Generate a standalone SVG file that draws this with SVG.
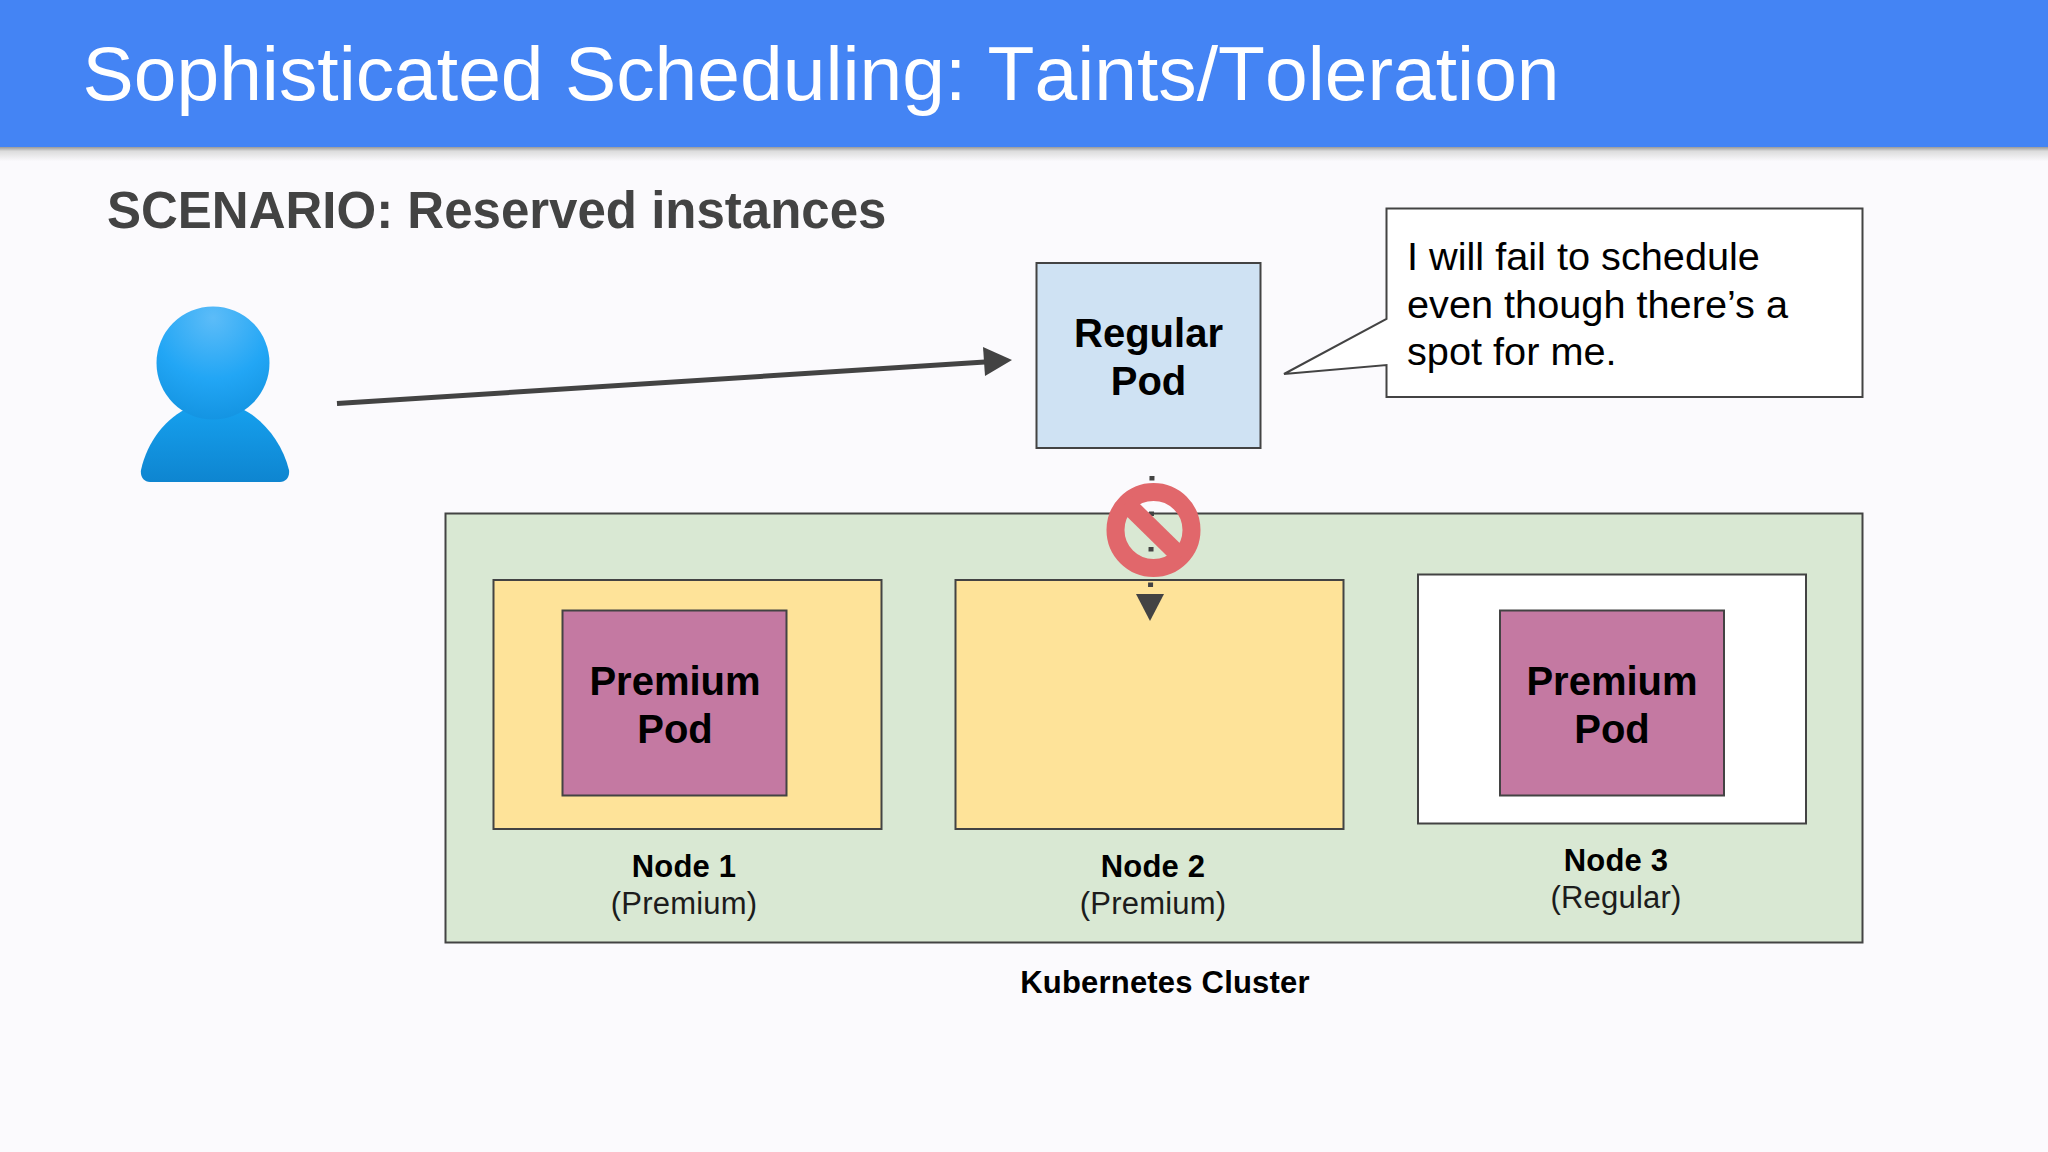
<svg xmlns="http://www.w3.org/2000/svg" width="2048" height="1152" viewBox="0 0 2048 1152">
<style>
.box{stroke:#434343;stroke-width:2}
.pod{font:bold 40px "Liberation Sans",Arial,sans-serif;fill:#000;text-anchor:middle}
.lb{font:bold 31px "Liberation Sans",Arial,sans-serif;fill:#000;text-anchor:middle;letter-spacing:.2px}
.ls{font:31px "Liberation Sans",Arial,sans-serif;fill:#1c1c1c;text-anchor:middle;letter-spacing:.2px}
.call{font:39.700px "Liberation Sans",Arial,sans-serif;fill:#000}
</style>
<defs>
<linearGradient id="sh" x1="0" y1="0" x2="0" y2="1"><stop offset="0" stop-color="#9a9a9a"/><stop offset=".3" stop-color="#dcdcdc"/><stop offset="1" stop-color="#faf9fc"/></linearGradient>
<radialGradient id="hd" cx=".5" cy=".1" r=".9"><stop offset="0" stop-color="#5cbcf8"/><stop offset=".6" stop-color="#22a6f5"/><stop offset="1" stop-color="#1494e2"/></radialGradient>
<linearGradient id="bd" x1="0" y1="0" x2="0" y2="1"><stop offset="0" stop-color="#16a0ee"/><stop offset="1" stop-color="#0e85d0"/></linearGradient>
</defs>
<rect width="2048" height="1152" fill="#fbfafd"/>
<g id="header">
<rect y="147" width="2048" height="14" fill="url(#sh)"/>
<rect width="2048" height="147" fill="#4484f4"/>
<text x="82.500" y="100" font-family="Liberation Sans,Arial,sans-serif" font-size="76.800" style="font-kerning:none" fill="#fff">Sophisticated Scheduling: Taints/Toleration</text>
</g>
<text id="scenario" x="107" y="228" font-family="Liberation Sans,Arial,sans-serif" font-weight="bold" font-size="51" fill="#434343">SCENARIO: Reserved instances</text>
<g id="user">
<path d="M141 470C147 442 166 417 190 407H238C262 417 282 442 289 470C290 477 286 482 280 482H150C144 482 140 477 141 470Z" fill="url(#bd)"/>
<circle cx="213" cy="363" r="56.500" fill="url(#hd)"/>
</g>
<g id="cluster">
<rect class="box" x="445.500" y="513.500" width="1417" height="429" fill="#d9e8d3"/>
<text class="lb" x="1165" y="993">Kubernetes Cluster</text>
</g>
<g id="node1">
<rect class="box" x="493.500" y="580" width="388" height="249" fill="#fee399"/>
<text class="lb" x="684" y="877">Node 1</text>
<text class="ls" x="684" y="914">(Premium)</text>
</g>
<g id="node2">
<rect class="box" x="955.500" y="580" width="388" height="249" fill="#fee399"/>
<text class="lb" x="1153" y="877">Node 2</text>
<text class="ls" x="1153" y="914">(Premium)</text>
</g>
<g id="node3">
<rect class="box" x="1418" y="574.500" width="388" height="249" fill="#fff"/>
<text class="lb" x="1616" y="871">Node 3</text>
<text class="ls" x="1616" y="908">(Regular)</text>
</g>
<g id="premium1">
<rect class="box" x="562.500" y="610.500" width="224" height="185" fill="#c479a2"/>
<text class="pod" x="675" y="695">Premium</text>
<text class="pod" x="675" y="743">Pod</text>
</g>
<g id="premium2">
<rect class="box" x="1500" y="610.500" width="224" height="185" fill="#c479a2"/>
<text class="pod" x="1612" y="695">Premium</text>
<text class="pod" x="1612" y="743">Pod</text>
</g>
<g id="regular">
<rect class="box" x="1036.500" y="263" width="224" height="185" fill="#cfe2f3"/>
<text class="pod" x="1148.500" y="347">Regular</text>
<text class="pod" x="1148.500" y="395">Pod</text>
</g>
<g id="callout">
<path class="box" d="M1386.500 208.500H1862.500V397H1386.500V365L1284 374L1386.500 319Z" fill="#fff"/>
<text class="call" x="1407" y="269.500">I will fail to schedule</text>
<text class="call" x="1407" y="317.500">even though there’s a</text>
<text class="call" x="1407" y="365">spot for me.</text>
</g>
<g id="connectors">
<line x1="337" y1="403.500" x2="985" y2="362" stroke="#434343" stroke-width="5"/>
<path d="M983 347L1012 360L985 376Z" fill="#434343"/>
<path d="M1152 476L1150.500 590" stroke="#434343" stroke-width="5" stroke-dasharray="4.500 31" fill="none"/>
<path d="M1136 594H1164L1150 621Z" fill="#434343"/>
</g>
<g id="prohibit" fill="none" stroke="#e1676b" stroke-width="18">
<circle cx="1153.500" cy="530" r="38"/>
<line x1="1126" y1="503" x2="1181" y2="557"/>
</g>
</svg>
